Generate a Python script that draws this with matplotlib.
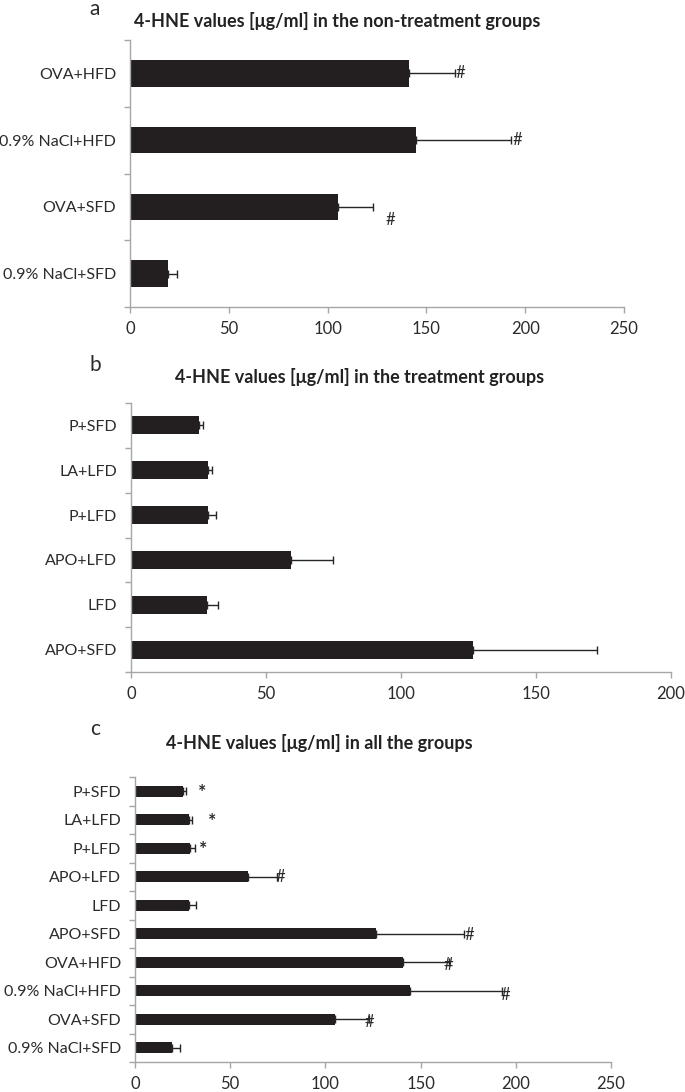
import matplotlib
matplotlib.use('Agg')
import matplotlib.pyplot as plt
import numpy as np

plt.rcParams['font.family'] = ['Lato', 'DejaVu Sans']

# groups, bottom to top as in the panels
groups_a = ['0.9% NaCl+SFD', 'OVA+SFD', '0.9% NaCl+HFD', 'OVA+HFD']
means_a = [19.2, 105.1, 144.5, 141.0]
errs_a = [4.5, 17.7, 48.5, 23.7]
marks_a = ['', '#', '#', '#']
mark_x_a = [0, 132, 196, 167]

groups_b = ['APO+SFD', 'LFD', 'APO+LFD', 'P+LFD', 'LA+LFD', 'P+SFD']
means_b = [126.8, 28.2, 59.2, 28.7, 28.4, 25.0]
errs_b = [45.8, 4.1, 15.5, 2.9, 1.6, 1.6]

groups_c = groups_a + groups_b
means_c = means_a + means_b
errs_c = errs_a + errs_b
marks_c = ['', '#', '#', '#', '#', '', '#', '*', '*', '*']
mark_x_c = [0, 123, 194.5, 164.5, 175.5, 0, 76.5, 36, 40.6, 35.3]
mark_dy_c = [0, -0.1, -0.15, -0.1, -0.05, 0, 0, -0.05, -0.05, -0.05]

BAR = '#231f20'
AXC = '#a6a6a6'
TXT = '#2b2b2b'
W, H = 685.0, 1092.0


def px_axes(fig, left, right, top, bottom):
    return fig.add_axes([left / W, 1 - bottom / H, (right - left) / W, (bottom - top) / H])


def draw_panel(ax, groups, means, errs, xmax):
    y = np.arange(len(groups))
    ax.barh(y, means, height=0.4, color=BAR, zorder=2)
    ax.errorbar(means, y, xerr=[np.zeros(len(errs)), errs], fmt='none',
                ecolor='#262626', elinewidth=1, capsize=3, capthick=1, zorder=3)
    ax.set_xlim(0, xmax)
    ax.set_ylim(-0.5, len(groups) - 0.5)
    ax.set_xticks(np.arange(0, xmax + 1, 50))
    ax.set_yticks(y)
    ax.set_yticklabels(groups)
    ax.set_yticks(np.arange(len(groups) + 1) - 0.5, minor=True)
    ax.tick_params(axis='y', which='major', length=0, pad=10, labelsize=11.5, labelcolor=TXT)
    ax.tick_params(axis='y', which='minor', length=4.3, width=1, color=AXC)
    ax.tick_params(axis='x', which='major', length=4.3, width=1, color=AXC,
                   pad=6, labelsize=12, labelcolor=TXT)
    for s in ['top', 'right']:
        ax.spines[s].set_visible(False)
    for s in ['left', 'bottom']:
        ax.spines[s].set_color(AXC)
        ax.spines[s].set_linewidth(1)


fig = plt.figure(figsize=(6.85, 10.92), dpi=100)

ax1 = px_axes(fig, 130, 624, 40, 307)
draw_panel(ax1, groups_a, means_a, errs_a, 250)
for i, m in enumerate(marks_a):
    if m:
        dy = -0.2 if i == 1 else 0
        ax1.text(mark_x_a[i], i + dy, m, ha='center', va='center', fontsize=12, color=TXT)
fig.text(95 / W, 1 - 9 / H, 'a', fontsize=15, ha='center', va='center', color=TXT)
fig.text(337 / W, 1 - 21 / H, '4-HNE values [μg/ml] in the non-treatment groups',
         fontsize=13, fontweight='bold', ha='center', va='center', color='#222222')

ax2 = px_axes(fig, 131, 671, 403, 672)
draw_panel(ax2, groups_b, means_b, errs_b, 200)
fig.text(95 / W, 1 - 365 / H, 'b', fontsize=15, ha='center', va='center', color=TXT)
fig.text(360 / W, 1 - 377 / H, '4-HNE values [μg/ml] in the treatment groups',
         fontsize=13, fontweight='bold', ha='center', va='center', color='#222222')

ax3 = px_axes(fig, 135, 611, 777, 1062)
draw_panel(ax3, groups_c, means_c, errs_c, 250)
for i, m in enumerate(marks_c):
    if m:
        ax3.text(mark_x_c[i], i + mark_dy_c[i], m, ha='center', va='center',
                 fontsize=12 if m == '#' else 14, fontweight='normal' if m == '#' else 'bold',
                 color=TXT)
fig.text(95 / W, 1 - 729 / H, 'c', fontsize=15, ha='center', va='center', color=TXT)
fig.text(319 / W, 1 - 743 / H, '4-HNE values [μg/ml] in all the groups',
         fontsize=13, fontweight='bold', ha='center', va='center', color='#222222')

fig.savefig('out.png', dpi=100)
